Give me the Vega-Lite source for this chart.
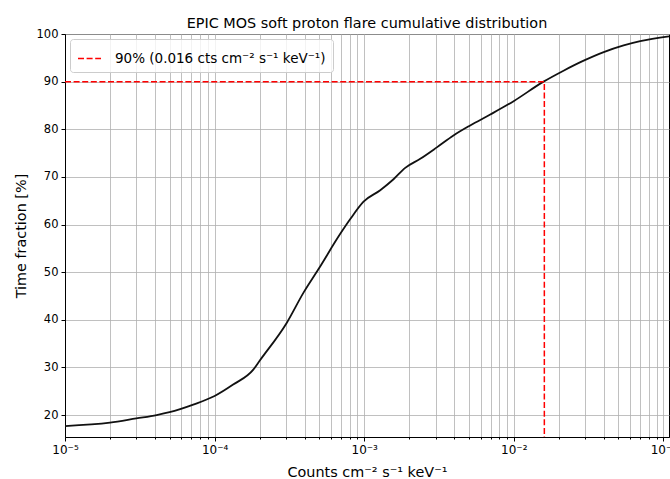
{
  "$schema": "https://vega.github.io/schema/vega-lite/v6.json",
  "width": 604,
  "height": 403,
  "autosize": {"type": "none"},
  "padding": {"left": 65, "top": 34, "right": 1, "bottom": 42},
  "background": "#ffffff",
  "config": {
    "font": "DejaVu Sans",
    "view": {"stroke": "#000000", "strokeWidth": 1}
  },
  "title": {
    "text": "EPIC MOS soft proton flare cumulative distribution",
    "fontSize": 14.4,
    "fontWeight": "normal",
    "color": "#000000",
    "offset": -3,
    "anchor": "middle"
  },
  "datasets": {
    "curve": [
      {"counts": 1.0e-5, "fraction": 17.7},
      {"counts": 2.0e-5, "fraction": 18.4},
      {"counts": 3.0e-5, "fraction": 19.3},
      {"counts": 4.1e-5, "fraction": 20.0},
      {"counts": 5.0e-5, "fraction": 20.6},
      {"counts": 7.2e-5, "fraction": 22.2},
      {"counts": 1.0e-4, "fraction": 24.0},
      {"counts": 1.33e-4, "fraction": 26.4},
      {"counts": 1.82e-4, "fraction": 29.6},
      {"counts": 2.0e-4, "fraction": 31.4},
      {"counts": 3.04e-4, "fraction": 39.4},
      {"counts": 3.93e-4, "fraction": 45.7},
      {"counts": 4.94e-4, "fraction": 50.6},
      {"counts": 6.9e-4, "fraction": 58.0},
      {"counts": 8.05e-4, "fraction": 61.1},
      {"counts": 9.9e-4, "fraction": 64.8},
      {"counts": 1.28e-3, "fraction": 67.2},
      {"counts": 1.57e-3, "fraction": 69.5},
      {"counts": 1.88e-3, "fraction": 71.9},
      {"counts": 2.37e-3, "fraction": 73.8},
      {"counts": 3.06e-3, "fraction": 76.2},
      {"counts": 3.95e-3, "fraction": 78.7},
      {"counts": 5.11e-3, "fraction": 80.8},
      {"counts": 6.96e-3, "fraction": 83.1},
      {"counts": 9.97e-3, "fraction": 85.9},
      {"counts": 1.58e-2, "fraction": 90.0},
      {"counts": 2.15e-2, "fraction": 92.3},
      {"counts": 2.93e-2, "fraction": 94.4},
      {"counts": 3.99e-2, "fraction": 96.2},
      {"counts": 5.42e-2, "fraction": 97.6},
      {"counts": 7.0e-2, "fraction": 98.5},
      {"counts": 0.109, "fraction": 99.5}
    ],
    "ref": [
      {"i": 0, "counts": 1.0e-5, "fraction": 90, "label": "90% (0.016 cts cm⁻² s⁻¹ keV⁻¹)"},
      {"i": 1, "counts": 0.016, "fraction": 90, "label": "90% (0.016 cts cm⁻² s⁻¹ keV⁻¹)"},
      {"i": 2, "counts": 0.016, "fraction": 15.4, "label": "90% (0.016 cts cm⁻² s⁻¹ keV⁻¹)"}
    ]
  },
  "layer": [
    {
      "data": {"name": "curve"},
      "mark": {"type": "line", "color": "#111111", "strokeWidth": 1.8, "interpolate": "monotone", "clip": true},
      "encoding": {
        "x": {
          "field": "counts",
          "type": "quantitative",
          "scale": {"type": "log", "domain": [1e-5, 0.109], "nice": false},
          "axis": {
            "title": "Counts cm⁻² s⁻¹ keV⁻¹",
            "titleFontSize": 14.4,
            "titleFontWeight": "normal",
            "titleColor": "#000000",
            "titlePadding": 10,
            "values": [1e-5, 2e-5, 3e-5, 4e-5, 5e-5, 6e-5, 7e-5, 8e-5, 9e-5, 1e-4, 2e-4, 3e-4, 4e-4, 5e-4, 6e-4, 7e-4, 8e-4, 9e-4, 1e-3, 2e-3, 3e-3, 4e-3, 5e-3, 6e-3, 7e-3, 8e-3, 9e-3, 1e-2, 2e-2, 3e-2, 4e-2, 5e-2, 6e-2, 7e-2, 8e-2, 9e-2, 0.1],
            "labelExpr": "abs(log(datum.value)/LN10 - round(log(datum.value)/LN10)) < 0.001 ? '10' + ['⁻⁵','⁻⁴','⁻³','⁻²','⁻¹'][round(log(datum.value)/LN10)+5] : ''",
            "labelFontSize": 12,
            "labelColor": "#000000",
            "labelFlush": false,
            "labelOverlap": false,
            "labelBound": false,
            "labelPadding": 3,
            "tickSize": {"condition": {"test": "abs(log(datum.value)/LN10 - round(log(datum.value)/LN10)) < 0.001", "value": 4}, "value": 2},
            "tickColor": "#000000",
            "domainColor": "#000000",
            "grid": true,
            "gridColor": "#b0b0b0",
            "gridWidth": 0.8
          }
        },
        "y": {
          "field": "fraction",
          "type": "quantitative",
          "scale": {"domain": [15.4, 100], "nice": false, "zero": false},
          "axis": {
            "title": "Time fraction [%]",
            "titleFontSize": 14.4,
            "titleFontWeight": "normal",
            "titleColor": "#000000",
            "titlePadding": 8,
            "values": [20, 30, 40, 50, 60, 70, 80, 90, 100],
            "labelFontSize": 11.5,
            "labelColor": "#000000",
            "labelPadding": 3,
            "tickSize": 4,
            "tickColor": "#000000",
            "domainColor": "#000000",
            "grid": true,
            "gridColor": "#b0b0b0",
            "gridWidth": 0.8
          }
        }
      }
    },
    {
      "data": {"name": "ref"},
      "mark": {"type": "line", "strokeWidth": 1.5, "strokeDash": [6, 2.6], "clip": true},
      "encoding": {
        "x": {"field": "counts", "type": "quantitative"},
        "y": {"field": "fraction", "type": "quantitative"},
        "order": {"field": "i", "type": "quantitative"},
        "color": {
          "field": "label",
          "type": "nominal",
          "scale": {"range": ["#ff0000"]},
          "legend": {
            "title": null,
            "orient": "top-left",
            "offset": 5,
            "padding": 7,
            "fillColor": "rgba(255,255,255,0.8)",
            "strokeColor": "#cccccc",
            "cornerRadius": 3,
            "symbolType": "stroke",
            "symbolSize": 529,
            "symbolStrokeWidth": 1.5,
            "symbolDash": [6, 2.6],
            "symbolStrokeColor": "#ff0000",
            "labelFontSize": 13.5,
            "labelColor": "#000000",
            "labelOffset": 13,
            "labelLimit": 400
          }
        }
      }
    }
  ]
}
